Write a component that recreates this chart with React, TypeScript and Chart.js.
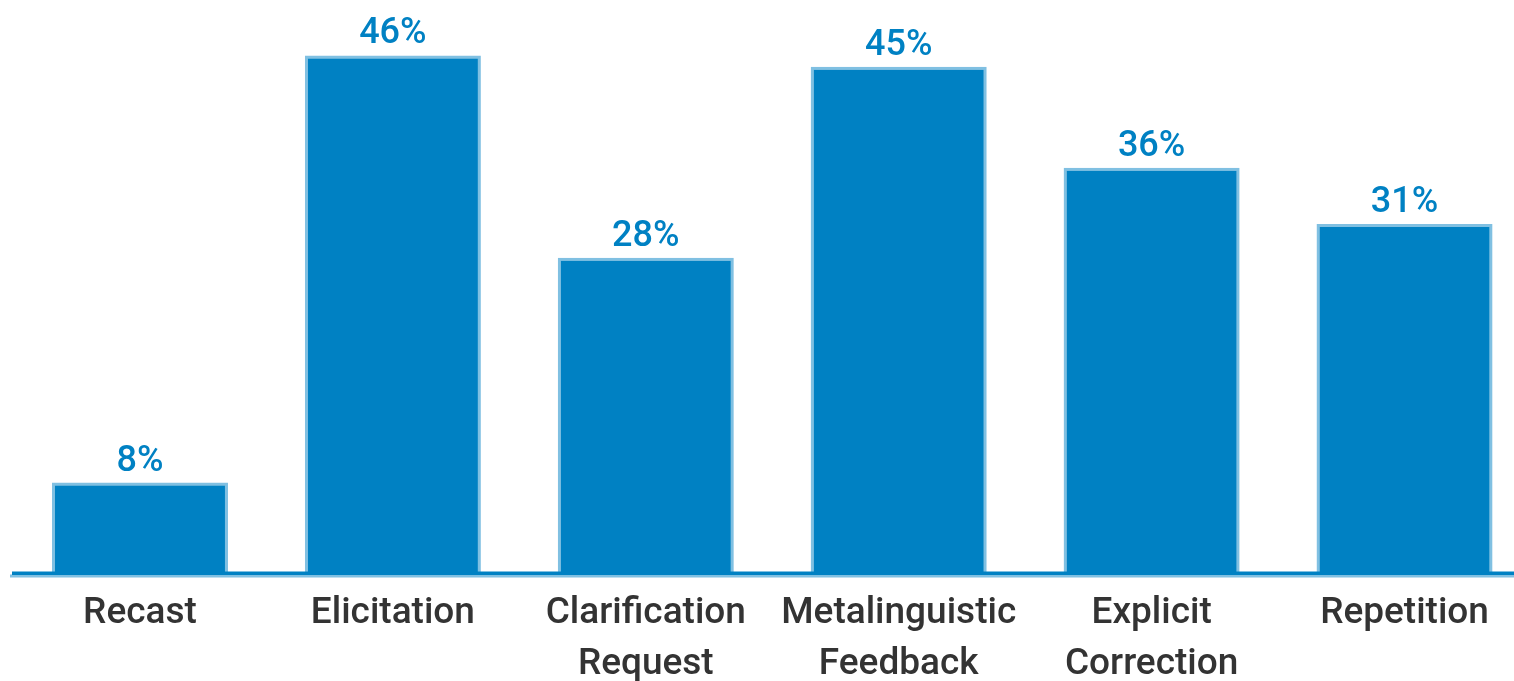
import React, { useEffect, useRef } from "react";
import { Chart, registerables } from "chart.js";

Chart.register(...registerables);

const categories: string[][] = [
  ["Recast"],
  ["Elicitation"],
  ["Clarification", "Request"],
  ["Metalinguistic", "Feedback"],
  ["Explicit", "Correction"],
  ["Repetition"],
];
const values: number[] = [8, 46, 28, 45, 36, 31];
const valueLabels: string[] = ["8%", "46%", "28%", "45%", "36%", "31%"];

const BAR = "#0081c3";
const BAR_EDGE = "#80c0e2";
const TEXT = "#333333";
const FONT = "Roboto, 'Liberation Sans', Arial, sans-serif";

const labelPlugin = {
  id: "labelPlugin",
  afterDatasetsDraw(chart: any) {
    const ctx = chart.ctx;
    const x = chart.scales.x;
    const y = chart.scales.y;
    const y0 = y.getPixelForValue(0);
    ctx.save();
    // baseline
    ctx.fillStyle = BAR_EDGE;
    ctx.fillRect(10, y0 + 2, chart.width, 3);
    ctx.fillStyle = BAR;
    ctx.fillRect(12, y0 - 1, chart.width, 3.5);
    // value labels
    ctx.fillStyle = BAR;
    ctx.font = `500 36px ${FONT}`;
    ctx.textAlign = "center";
    ctx.textBaseline = "alphabetic";
    values.forEach((v, i) => {
      const px = x.getPixelForValue(i);
      const py = y.getPixelForValue(v);
      ctx.fillText(valueLabels[i], px, py - 12);
    });
    // category labels
    ctx.fillStyle = TEXT;
    ctx.font = `500 37px ${FONT}`;
    ctx.textBaseline = "middle";
    categories.forEach((lines, i) => {
      const px = x.getPixelForValue(i);
      lines.forEach((t, j) => {
        ctx.fillText(t, px, y0 + 41 + j * 51);
      });
    });
    ctx.restore();
  },
};

export default function App() {
  const ref = useRef<HTMLCanvasElement | null>(null);
  useEffect(() => {
    if (!ref.current) return;
    const chart = new Chart(ref.current, {
      type: "bar",
      data: {
        labels: categories.map((c) => c.join(" ")),
        datasets: [
          {
            data: values,
            backgroundColor: BAR,
            borderColor: BAR_EDGE,
            borderWidth: 3,
            borderSkipped: "start",
            categoryPercentage: 1,
            barPercentage: 0.696,
          },
        ],
      },
      options: {
        animation: false,
        responsive: false,
        maintainAspectRatio: false,
        layout: { padding: { left: 13.5, right: 0, top: 10.5, bottom: 108.5 } },
        plugins: { legend: { display: false }, tooltip: { enabled: false } },
        scales: {
          x: { display: false },
          y: { display: false, min: 0, max: 50 },
        },
      },
      plugins: [labelPlugin],
    });
    return () => chart.destroy();
  }, []);
  return (
    <div style={{ position: "fixed", left: 0, top: 0, width: 1514, height: 681, overflow: "hidden", background: "#fff" }}>
      <canvas ref={ref} width={1531} height={681} style={{ display: "block", width: 1531, height: 681 }} />
    </div>
  );
}
